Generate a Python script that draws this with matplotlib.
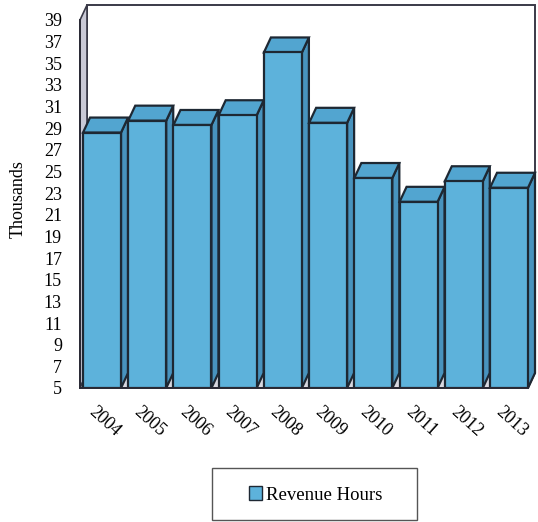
import matplotlib
matplotlib.use("Agg")
import matplotlib.pyplot as plt
from matplotlib.patches import Polygon, Rectangle
import matplotlib.transforms as mtransforms

plt.rcParams['font.family'] = ['Liberation Serif', 'DejaVu Serif']

years = ['2004', '2005', '2006', '2007', '2008', '2009', '2010', '2011', '2012', '2013']
revenue_hours = [28.6, 29.7, 29.3, 30.2, 36.0, 29.5, 24.4, 22.2, 24.1, 23.5]
y_ticks = list(range(5, 40, 2))
series_name = 'Revenue Hours'
y_label = 'Thousands'

FRONT = '#5DB2DB'
TOP = '#52A5D0'
SIDE = '#4893BE'
EDGE = '#1E2833'

W, H = 538, 522
fig = plt.figure(figsize=(W / 100, H / 100), dpi=100)
ax = fig.add_axes([80 / W, 1 - 388 / H, 448 / W, 368 / H])
ymin, ymax = 5, 39
x0, x1 = -0.487, 9.42
ax.set_xlim(x0, x1)
ax.set_ylim(ymin, ymax)
for s in ax.spines.values():
    s.set_visible(False)
ax.patch.set_visible(False)

# depth offset in data units (7 px right, 15 px up)
ddx = 7 / 45.2
ddy = 15 / 10.82

# left wall
ax.add_patch(Polygon([(x0, ymin), (x0, ymax), (x0 + ddx, ymax + ddy), (x0 + ddx, ymin + ddy)],
                     closed=True, facecolor='#C9C9D6', edgecolor='#3A3A48', lw=1.2,
                     clip_on=False, zorder=1))
# floor
ax.add_patch(Polygon([(x0, ymin), (x1, ymin), (x1 + ddx, ymin + ddy), (x0 + ddx, ymin + ddy)],
                     closed=True, facecolor='#D8D8E0', edgecolor='#3A3A48', lw=1.2,
                     clip_on=False, zorder=1))
# back wall
ax.add_patch(Rectangle((x0 + ddx, ymin + ddy), x1 - x0, ymax - ymin,
                       facecolor='white', edgecolor='#3A3A48', lw=1.4,
                       clip_on=False, zorder=0.9))

bars = ax.bar(range(len(years)), [v - ymin for v in revenue_hours], bottom=ymin,
              width=0.84, color=FRONT, edgecolor=EDGE, linewidth=1.6, zorder=3)
for k, b in enumerate(bars):
    bx0 = b.get_x()
    bx1 = bx0 + b.get_width()
    top = b.get_y() + b.get_height()
    z = 3 + k * 0.01
    ax.add_patch(Polygon([(bx1, ymin), (bx1, top), (bx1 + ddx, top + ddy), (bx1 + ddx, ymin + ddy)],
                         closed=True, facecolor=SIDE, edgecolor=EDGE, lw=1.6,
                         clip_on=False, zorder=z))
    ax.add_patch(Polygon([(bx0, top), (bx1, top), (bx1 + ddx, top + ddy), (bx0 + ddx, top + ddy)],
                         closed=True, facecolor=TOP, edgecolor=EDGE, lw=1.6,
                         clip_on=False, zorder=z))
    b.set_zorder(z + 0.005)

# front-left axis line
ax.plot([x0, x0], [ymin, ymax], color='#2A2A35', lw=1.4, clip_on=False, zorder=5)
ax.plot([x0, x1], [ymin, ymin], color='#2A2A35', lw=1.4, clip_on=False, zorder=5)

ax.set_yticks(y_ticks)
ax.set_yticklabels([str(t) for t in y_ticks], fontsize=13)
ax.tick_params(axis='y', length=0, pad=13)

ax.set_xticks(range(len(years)))
ax.set_xticklabels(years, fontsize=13, rotation=-42, ha='left', va='top',
                   rotation_mode='anchor')
ax.tick_params(axis='x', length=0, pad=11)
offset = mtransforms.ScaledTranslation(-5 / 100, 0, fig.dpi_scale_trans)
for lab in ax.get_xticklabels():
    lab.set_transform(lab.get_transform() + offset)

fig.text(18 / W, 1 - 199 / H, y_label, rotation=90, fontsize=13,
         ha='center', va='center')

# legend box
fig.patches.append(Rectangle((212 / W, 1 - 520 / H), 205 / W, 52 / H,
                             transform=fig.transFigure, facecolor='white',
                             edgecolor='#555555', lw=1.0))
handle = Rectangle((0, 0), 1, 1, facecolor=FRONT, edgecolor=EDGE, lw=1.0)
fig.legend([handle], [series_name], loc='center', bbox_to_anchor=(316 / W, 1 - 495 / H),
           frameon=False, fontsize=13.5, handlelength=0.65, handleheight=0.75,
           handletextpad=0.25, borderpad=0)

fig.savefig('out.png', dpi=100)
